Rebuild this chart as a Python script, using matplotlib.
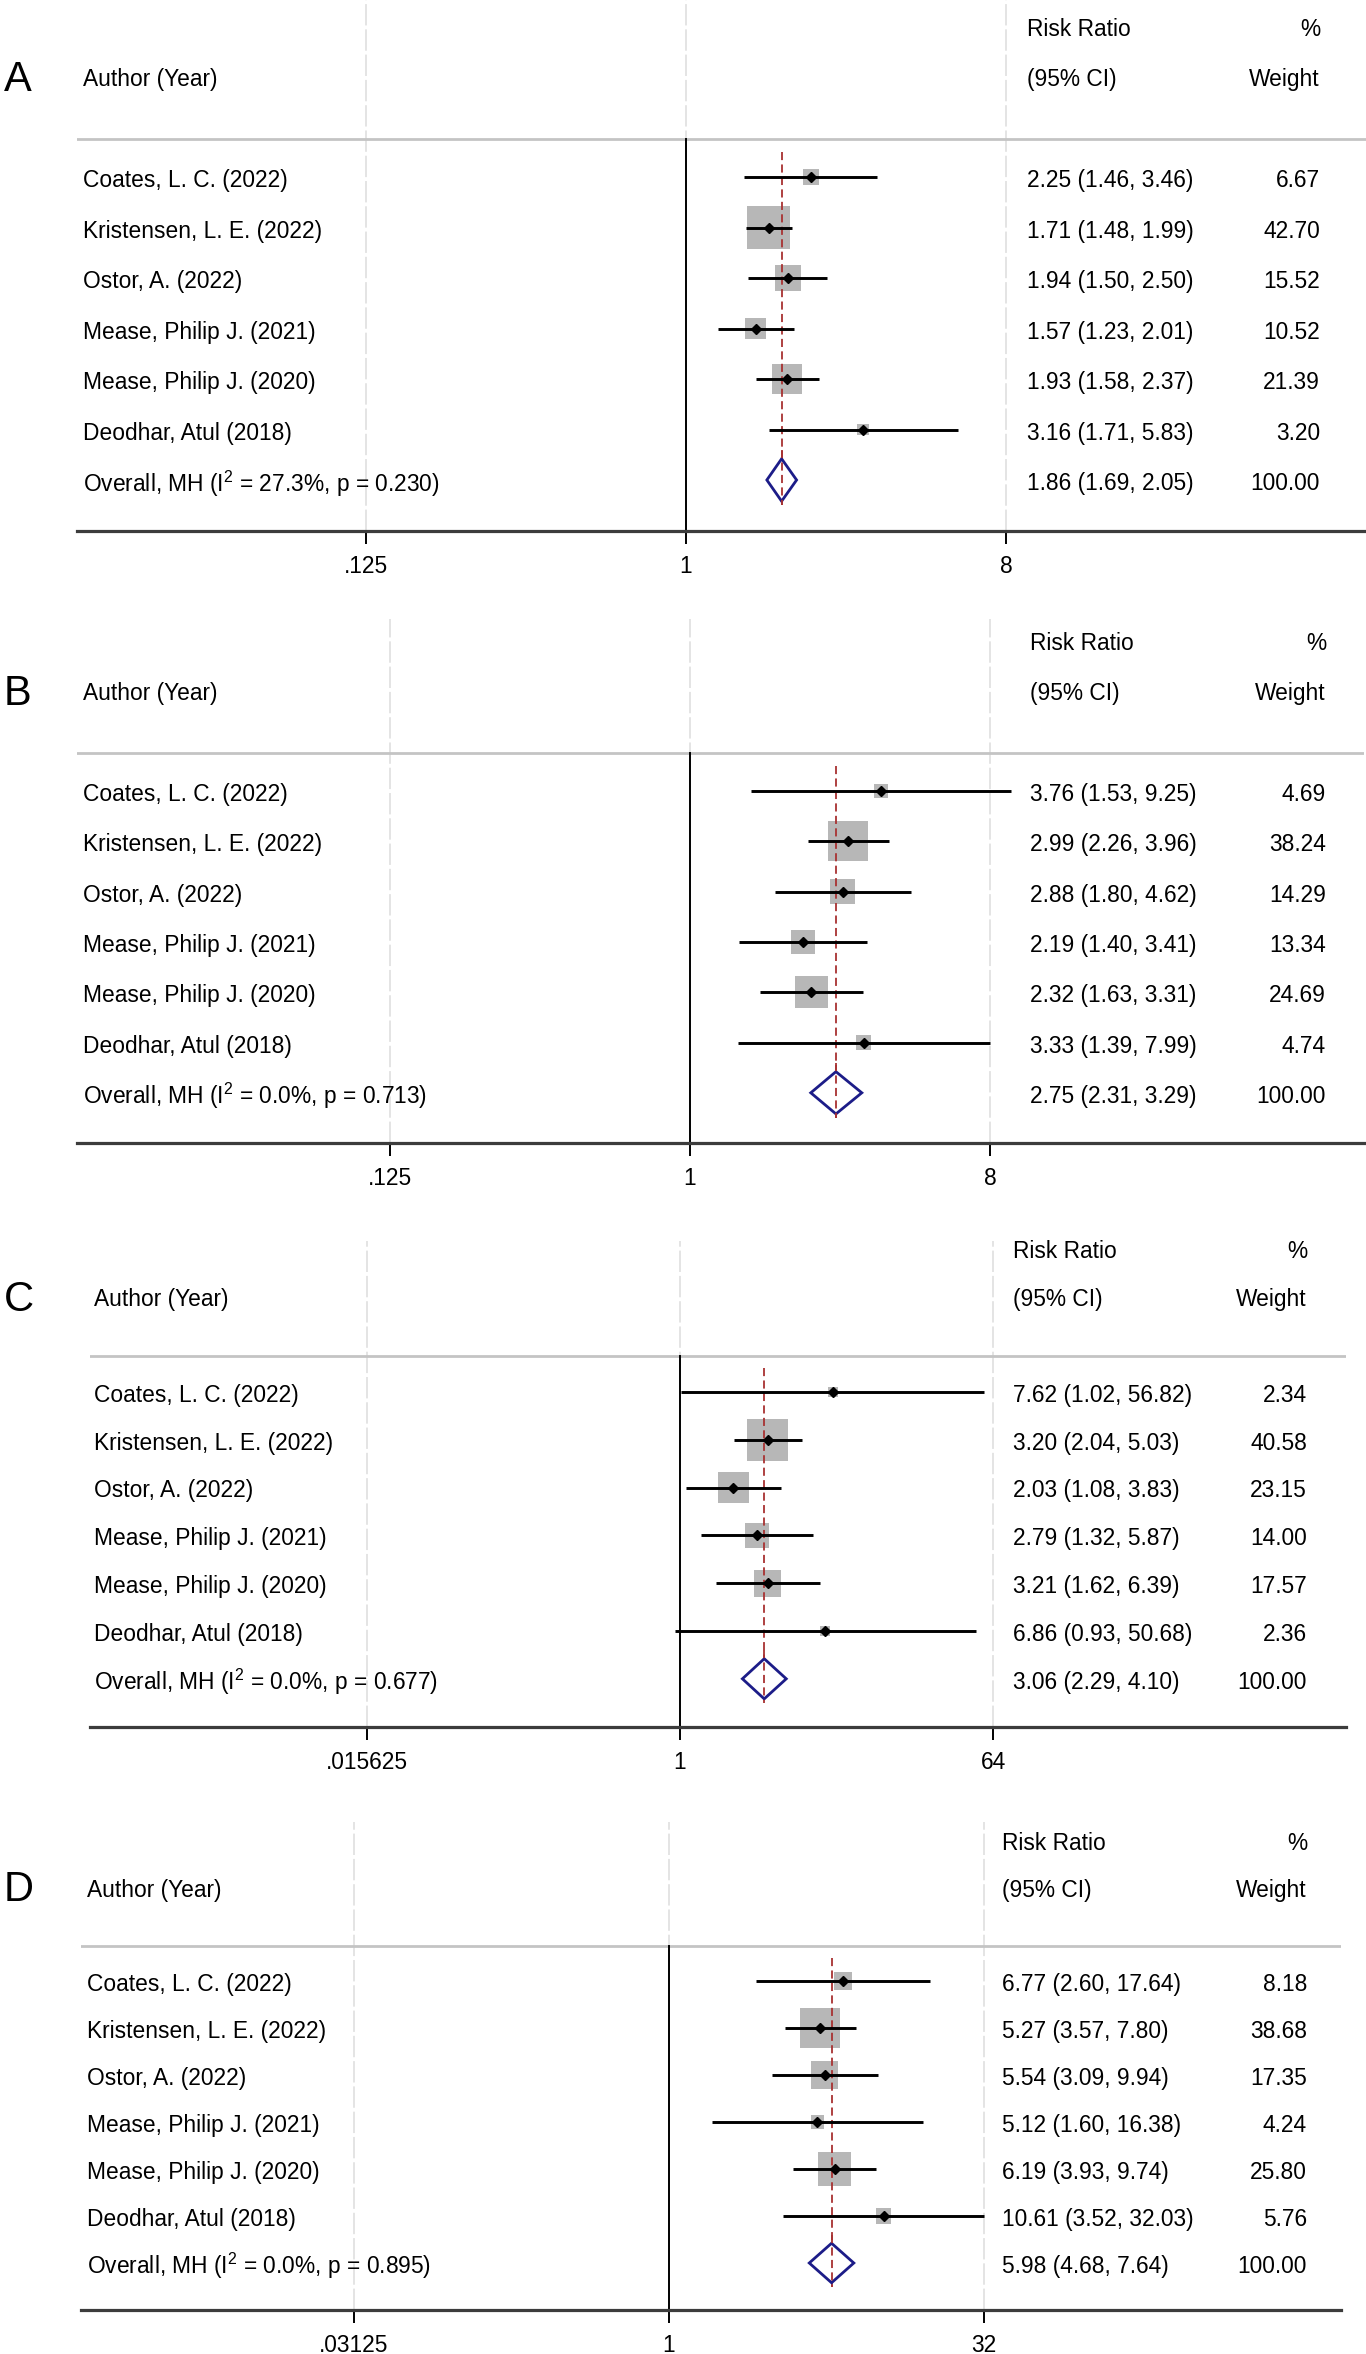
import numpy as np
import matplotlib
matplotlib.use("Agg")
import matplotlib.pyplot as plt
from matplotlib.patches import Polygon
from matplotlib.ticker import NullLocator
from matplotlib.transforms import blended_transform_factory

plt.rcParams['font.family'] = ['Liberation Sans', 'DejaVu Sans']
plt.rcParams['mathtext.fontset'] = 'custom'
plt.rcParams['mathtext.rm'] = 'Liberation Sans'
plt.rcParams['mathtext.it'] = 'Liberation Sans:italic'

authors = ["Coates, L. C. (2022)", "Kristensen, L. E. (2022)", "Ostor, A. (2022)",
           "Mease, Philip J. (2021)", "Mease, Philip J. (2020)", "Deodhar, Atul (2018)"]

# panel A
a_rr = [2.25, 1.71, 1.94, 1.57, 1.93, 3.16]
a_lo = [1.46, 1.48, 1.50, 1.23, 1.58, 1.71]
a_hi = [3.46, 1.99, 2.50, 2.01, 2.37, 5.83]
a_w = [6.67, 42.70, 15.52, 10.52, 21.39, 3.20]
a_overall = [1.86, 1.69, 2.05]
a_het = [27.3, 0.230]
a_ticks = [0.125, 1, 8]
a_ticklabels = [".125", "1", "8"]

# panel B
b_rr = [3.76, 2.99, 2.88, 2.19, 2.32, 3.33]
b_lo = [1.53, 2.26, 1.80, 1.40, 1.63, 1.39]
b_hi = [9.25, 3.96, 4.62, 3.41, 3.31, 7.99]
b_w = [4.69, 38.24, 14.29, 13.34, 24.69, 4.74]
b_overall = [2.75, 2.31, 3.29]
b_het = [0.0, 0.713]
b_ticks = [0.125, 1, 8]
b_ticklabels = [".125", "1", "8"]

# panel C
c_rr = [7.62, 3.20, 2.03, 2.79, 3.21, 6.86]
c_lo = [1.02, 2.04, 1.08, 1.32, 1.62, 0.93]
c_hi = [56.82, 5.03, 3.83, 5.87, 6.39, 50.68]
c_w = [2.34, 40.58, 23.15, 14.00, 17.57, 2.36]
c_overall = [3.06, 2.29, 4.10]
c_het = [0.0, 0.677]
c_ticks = [0.015625, 1, 64]
c_ticklabels = [".015625", "1", "64"]

# panel D
d_rr = [6.77, 5.27, 5.54, 5.12, 6.19, 10.61]
d_lo = [2.60, 3.57, 3.09, 1.60, 3.93, 3.52]
d_hi = [17.64, 7.80, 9.94, 16.38, 9.74, 32.03]
d_w = [8.18, 38.68, 17.35, 4.24, 25.80, 5.76]
d_overall = [5.98, 4.68, 7.64]
d_het = [0.0, 0.895]
d_ticks = [0.03125, 1, 32]
d_ticklabels = [".03125", "1", "32"]

panels = [
    ("A", a_rr, a_lo, a_hi, a_w, a_overall, a_het, a_ticks, a_ticklabels),
    ("B", b_rr, b_lo, b_hi, b_w, b_overall, b_het, b_ticks, b_ticklabels),
    ("C", c_rr, c_lo, c_hi, c_w, c_overall, c_het, c_ticks, c_ticklabels),
    ("D", d_rr, d_lo, d_hi, d_w, d_overall, d_het, d_ticks, d_ticklabels),
]

# pixel geometry of each panel (top, first row, row step, left, right, x of 1, px per doubling,
# author x, value x, weight right x)
geometry = [
    dict(top=0, row1=177, step=50.5, left=77, right=1366, one=686, ppd=106.8, xa=83, xv=1027, xw=1320),
    dict(top=619, row1=791, step=50.3, left=77, right=1364, one=690, ppd=100.0, xa=83, xv=1030, xw=1326),
    dict(top=1241, row1=1392, step=47.8, left=90, right=1346, one=680, ppd=52.2, xa=94, xv=1013, xw=1307),
    dict(top=1822, row1=1981, step=47.0, left=81, right=1341, one=669, ppd=63.0, xa=87, xv=1002, xw=1307),
]

W, H = 1366, 2354
FS = 16.4
DY = 0.07  # text sits a touch lower than matplotlib's bbox centre
fig = plt.figure(figsize=(W / 100, H / 100), dpi=100)

for (letter, rr, lo, hi, w, overall, het, ticks, ticklabels), g in zip(panels, geometry):
    bottom = g['row1'] + 7 * g['step']
    ax = fig.add_axes([g['left'] / W, 1 - bottom / H, (g['right'] - g['left']) / W,
                       (bottom - g['top']) / H])
    ax.set_xscale('log', base=2)
    ax.set_xlim(2 ** ((g['left'] - g['one']) / g['ppd']), 2 ** ((g['right'] - g['one']) / g['ppd']))
    ax.set_ylim(8, 1 - (g['row1'] - g['top']) / g['step'])
    ax.xaxis.set_minor_locator(NullLocator())
    ax.set_xticks(ticks, labels=ticklabels)
    ax.set_yticks([])
    for s in ['top', 'left', 'right']:
        ax.spines[s].set_visible(False)
    ax.spines['bottom'].set_color('#3c3c3c')
    ax.spines['bottom'].set_linewidth(2.3)
    ax.tick_params(axis='x', length=9.5, width=1.4, color='black', pad=8, labelsize=FS)

    rows = np.arange(1, len(rr) + 1)

    # gridlines and header rule
    for t in ticks:
        ax.axvline(t, color='#e4e4e4', lw=1.4, ls=(0, (11, 2)), zorder=0)
    ax.axhline(0.25, color='#c4c4c4', lw=2.0, zorder=1)
    ax.plot([1, 1], [0.25, 8], color='black', lw=1.4, zorder=2)

    # study boxes, overall line, CIs, point estimates
    side = 6.5 * np.sqrt(w) * 0.72
    ax.scatter(rr, rows, marker='s', s=side ** 2, color='#b7b7b7', lw=0, zorder=3)
    ax.plot([overall[0], overall[0]], [0.5, 7.5], color='#a83232', lw=1.3,
            ls=(0, (4.5, 2.4)), zorder=4)
    ax.hlines(rows, lo, hi, color='black', lw=2.1, zorder=5)
    ax.plot(rr, rows, 'D', color='black', ms=5.6, zorder=6)

    est, olo, ohi = overall
    dia = Polygon([(olo, 7), (est, 6.58), (ohi, 7), (est, 7.42)], closed=True,
                  facecolor='white', edgecolor='#1c1c88', lw=2.0, zorder=4)
    ax.add_patch(dia)
    ax.plot([est, est], [6.4, 7.5], color='#a83232', lw=1.3, ls=(0, (4.5, 2.4)), zorder=5)

    # text columns
    tr = blended_transform_factory(fig.transFigure, ax.transData)
    xa, xv, xw = g['xa'] / W, g['xv'] / W, g['xw'] / W
    ax.text(4 / W, -1 + DY, letter, transform=tr, fontsize=30, va='center', ha='left')
    ax.text(xa, -1 + DY, "Author (Year)", transform=tr, fontsize=FS, va='center')
    ax.text(xv, -2 + DY, "Risk Ratio", transform=tr, fontsize=FS, va='center')
    ax.text(xv, -1 + DY, "(95% CI)", transform=tr, fontsize=FS, va='center')
    ax.text(xw, -2 + DY, "%", transform=tr, fontsize=FS, va='center', ha='right')
    ax.text(xw, -1 + DY, "Weight", transform=tr, fontsize=FS, va='center', ha='right')
    for i, name in enumerate(authors):
        y = rows[i] + DY
        ax.text(xa, y, name, transform=tr, fontsize=FS, va='center')
        ax.text(xv, y, f"{rr[i]:.2f} ({lo[i]:.2f}, {hi[i]:.2f})", transform=tr,
                fontsize=FS, va='center')
        ax.text(xw, y, f"{w[i]:.2f}", transform=tr, fontsize=FS, va='center', ha='right')
    ax.text(xa, 7 + DY, f"Overall, MH (I$^{{2}}$ = {het[0]:.1f}%, p = {het[1]:.3f})", transform=tr,
            fontsize=FS, va='center')
    ax.text(xv, 7 + DY, f"{est:.2f} ({olo:.2f}, {ohi:.2f})", transform=tr, fontsize=FS, va='center')
    ax.text(xw, 7 + DY, "100.00", transform=tr, fontsize=FS, va='center', ha='right')

fig.savefig("out.png", dpi=100, facecolor='white')
